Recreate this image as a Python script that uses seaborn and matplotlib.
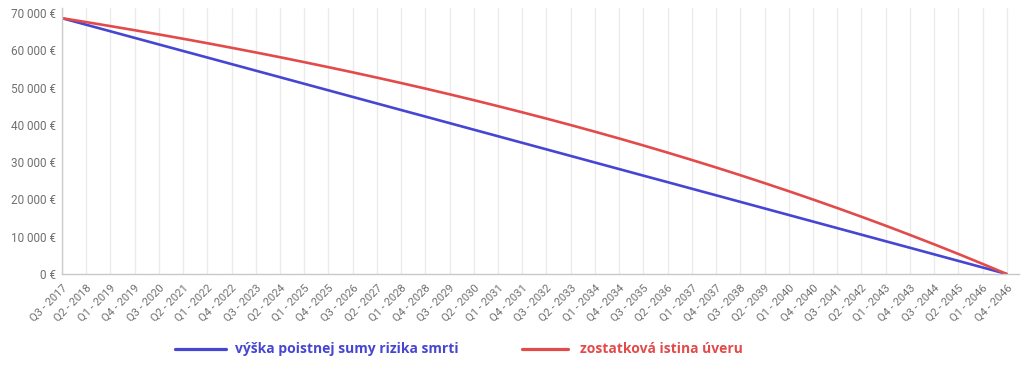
import matplotlib
matplotlib.use('Agg')
import numpy as np
import pandas as pd
import seaborn as sns
import matplotlib.pyplot as plt
from matplotlib.lines import Line2D

# kvartaly (kazdy treti)
kvartaly = ['Q3 - 2017', 'Q2 - 2018', 'Q1 - 2019', 'Q4 - 2019', 'Q3 - 2020', 'Q2 - 2021',
            'Q1 - 2022', 'Q4 - 2022', 'Q3 - 2023', 'Q2 - 2024', 'Q1 - 2025', 'Q4 - 2025',
            'Q3 - 2026', 'Q2 - 2027', 'Q1 - 2028', 'Q4 - 2028', 'Q3 - 2029', 'Q2 - 2030',
            'Q1 - 2031', 'Q4 - 2031', 'Q3 - 2032', 'Q2 - 2033', 'Q1 - 2034', 'Q4 - 2034',
            'Q3 - 2035', 'Q2 - 2036', 'Q1 - 2037', 'Q4 - 2037', 'Q3 - 2038', 'Q2 - 2039',
            'Q1 - 2040', 'Q4 - 2040', 'Q3 - 2041', 'Q2 - 2042', 'Q1 - 2043', 'Q4 - 2043',
            'Q3 - 2044', 'Q2 - 2045', 'Q1 - 2046', 'Q4 - 2046']

# vyska poistnej sumy rizika smrti
poistna_suma = [68600, 66840, 65080, 63320, 61560, 59800, 58050, 56290, 54530, 52770,
                51010, 49250, 47490, 45730, 43970, 42220, 40460, 38700, 36940, 35180,
                33420, 31660, 29900, 28140, 26380, 24630, 22870, 21110, 19350, 17590,
                15830, 14070, 12310, 10550, 8790, 7040, 5280, 3520, 1760, 0]

# zostatkova istina uveru
istina = [68600, 67550, 66470, 65370, 64240, 63080, 61890, 60660, 59410, 58130,
          56810, 55460, 54080, 52660, 51210, 49720, 48190, 46620, 45010, 43360,
          41670, 39940, 38160, 36340, 34470, 32550, 30580, 28570, 26500, 24380,
          22210, 19980, 17700, 15360, 12960, 10490, 7970, 5380, 2720, 0]

nazov_modra = 'výška poistnej sumy rizika smrti'
nazov_cervena = 'zostatková istina úveru'
modra = '#4646d2'
cervena = '#e34b4b'

df = pd.DataFrame({'i': np.arange(len(kvartaly)), 'kvartal': kvartaly,
                   'modra': poistna_suma, 'cervena': istina})

sns.set_style('white')
plt.rcParams['font.family'] = ['Roboto', 'DejaVu Sans']

fig = plt.figure(figsize=(10.24, 3.68), dpi=100)
ax = fig.add_axes([0.0605, 0.2554, 0.9345, 0.7226])

sns.lineplot(data=df, x='i', y='modra', color=modra, linewidth=1.9, ax=ax)
sns.lineplot(data=df, x='i', y='cervena', color=cervena, linewidth=1.9, ax=ax)

ax.set_xlim(0, 39.5)
ax.set_ylim(0, 71300)
ax.set_xticks(df['i'])
ax.set_xticklabels(kvartaly, rotation=45, ha='right', rotation_mode='anchor',
                   fontsize=8, color='#707070')
ax.set_yticks(range(0, 70001, 10000))
ax.set_yticklabels([f'{v:,} €'.replace(',', ' ') for v in range(0, 70001, 10000)],
                   fontsize=8.5, color='#707070')
ax.tick_params(axis='x', length=4, color='#cccccc', pad=2)
ax.tick_params(axis='y', length=0, pad=4)
ax.set_xlabel('')
ax.set_ylabel('')

ax.grid(axis='x', color='#ebebeb', linewidth=1)
ax.grid(axis='y', visible=False)
for s in ['top', 'right']:
    ax.spines[s].set_visible(False)
ax.spines['left'].set_color('#cccccc')
ax.spines['bottom'].set_color('#c8c8c8')
ax.spines['left'].set_linewidth(1)
ax.spines['bottom'].set_linewidth(1)

# legenda pod grafom
W, H = 1024, 368
ly = 1 - 349 / H
for x0, x1, tx, farba, nazov in [(175, 226, 235, modra, nazov_modra),
                                 (522, 568, 580, cervena, nazov_cervena)]:
    fig.add_artist(Line2D([x0 / W, x1 / W], [ly, ly], color=farba, linewidth=2.3,
                          transform=fig.transFigure))
    fig.text(tx / W, ly, nazov, color=farba, fontsize=10, fontweight='bold',
             family='Open Sans', ha='left', va='center')

fig.savefig('out.png', dpi=100)
